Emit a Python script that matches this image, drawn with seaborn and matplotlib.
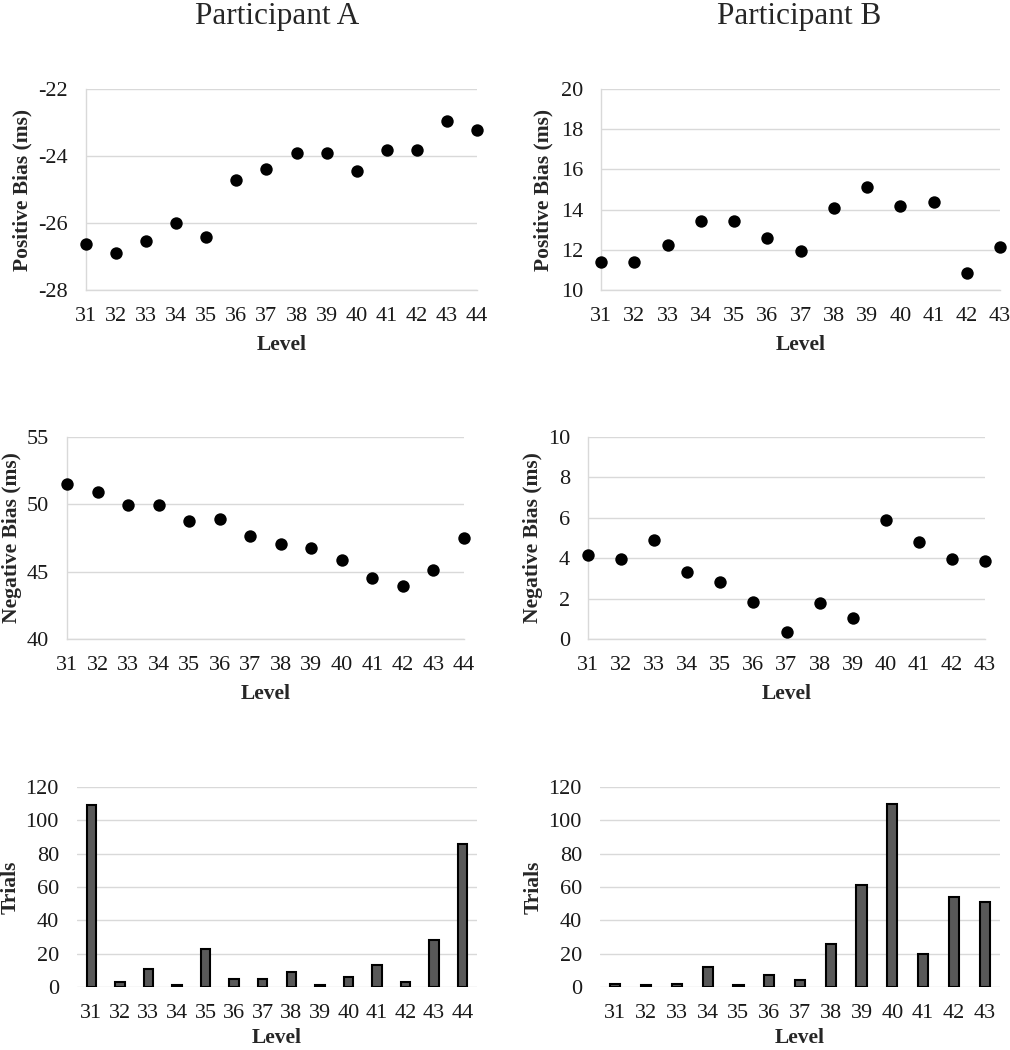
import matplotlib
matplotlib.use("Agg")
import matplotlib.pyplot as plt
import seaborn as sns
import pandas as pd
import numpy as np

sns.set_theme(style="white")
plt.rcParams['font.family'] = ['Liberation Serif', 'DejaVu Serif']
plt.rcParams['axes.unicode_minus'] = False

levels_a = [31, 32, 33, 34, 35, 36, 37, 38, 39, 40, 41, 42, 43, 44]
levels_b = [31, 32, 33, 34, 35, 36, 37, 38, 39, 40, 41, 42, 43]

pos_bias_a = [-26.62, -26.91, -26.53, -25.99, -26.42, -24.73, -24.40, -23.90, -23.90, -24.45, -23.83, -23.83, -22.97, -23.23]
pos_bias_b = [11.38, 11.38, 12.24, 13.44, 13.44, 12.59, 11.94, 14.07, 15.10, 14.19, 14.40, 10.86, 12.16]

neg_bias_a = [51.53, 50.93, 49.92, 49.92, 48.75, 48.93, 47.64, 47.07, 46.79, 45.90, 44.54, 43.92, 45.13, 47.49]
neg_bias_b = [4.18, 3.98, 4.88, 3.32, 2.84, 1.84, 0.35, 1.76, 1.03, 5.87, 4.78, 3.98, 3.85]

trials_a = [109, 3, 11, 1, 23, 5, 5, 9, 1, 6, 13, 3, 28, 86]
trials_b = [2, 1, 2, 12, 1, 7, 4, 26, 61, 110, 20, 54, 51]

titles = ["Participant A", "Participant B"]

GRID = "#d9d9d9"
TICK_FS = 16
LABEL_FS = 15.5

W, H = 1010, 1050
fig = plt.figure(figsize=(W / 100, H / 100), dpi=100)
fig.patch.set_facecolor("white")


def rect(l, r, t, b):
    return [l / W, 1 - b / H, (r - l) / W, (b - t) / H]


def style_common(ax, ylabel, yticks, ylab_x, xpad):
    ax.set_facecolor("white")
    ax.set_yticks(yticks)
    ax.set_ylim(yticks[0], yticks[-1])
    ax.yaxis.grid(True, color=GRID, linewidth=1)
    ax.xaxis.grid(False)
    ax.set_axisbelow(True)
    ax.tick_params(axis="both", length=0, labelsize=TICK_FS, colors="#1a1a1a")
    ax.tick_params(axis="x", pad=12)
    ax.tick_params(axis="y", pad=13)
    ax.set_ylabel(ylabel, fontsize=LABEL_FS, fontweight="bold")
    ax.yaxis.set_label_coords(ylab_x, 0.5)
    ax.set_xlabel("Level", fontsize=LABEL_FS, fontweight="bold", labelpad=xpad)
    for s in ["top", "right"]:
        ax.spines[s].set_visible(False)


def scatter_panel(pos, levels, values, ylabel, yticks, ylab_x):
    ax = fig.add_axes(pos)
    df = pd.DataFrame({"Level": levels, "Value": values})
    sns.scatterplot(data=df, x="Level", y="Value", ax=ax, color="black",
                    s=80, edgecolor="black", linewidth=0, clip_on=False, zorder=3)
    ax.set_xlim(levels[0], levels[-1])
    ax.set_xticks(levels)
    ax.set_xticklabels([str(v) for v in levels])
    style_common(ax, ylabel, yticks, ylab_x, 7)
    for s in ["left", "bottom"]:
        ax.spines[s].set_visible(True)
        ax.spines[s].set_color(GRID)
        ax.spines[s].set_linewidth(1)
    return ax


def bar_panel(pos, levels, values, ylabel, yticks, ylab_x):
    ax = fig.add_axes(pos)
    df = pd.DataFrame({"Level": [str(v) for v in levels], "Trials": values})
    sns.barplot(data=df, x="Level", y="Trials", ax=ax, color="#595959",
                edgecolor="black", linewidth=1.5, width=0.33, saturation=1)
    ax.set_xlim(-0.5, len(levels) - 0.5)
    style_common(ax, ylabel, yticks, ylab_x, 4)
    ax.spines["left"].set_visible(False)
    ax.spines["bottom"].set_visible(False)
    return ax


ax1 = scatter_panel(rect(86, 477, 89, 290), levels_a, pos_bias_a, "Positive Bias (ms)", [-28, -26, -24, -22], -0.136)
ax2 = scatter_panel(rect(601, 1000, 89, 290), levels_b, pos_bias_b, "Positive Bias (ms)", [10, 12, 14, 16, 18, 20], -0.118)
ax3 = scatter_panel(rect(67, 464, 437, 639), levels_a, neg_bias_a, "Negative Bias (ms)", [40, 45, 50, 55], -0.113)
ax4 = scatter_panel(rect(588, 985, 437, 639), levels_b, neg_bias_b, "Negative Bias (ms)", [0, 2, 4, 6, 8, 10], -0.113)
ax5 = bar_panel(rect(77, 477, 787, 987), levels_a, trials_a, "Trials", [0, 20, 40, 60, 80, 100, 120], -0.14)
ax6 = bar_panel(rect(600, 1000, 787, 987), levels_b, trials_b, "Trials", [0, 20, 40, 60, 80, 100, 120], -0.14)

fig.text(277 / W, 1 - 24 / H, titles[0], ha="center", va="baseline", fontsize=22.5)
fig.text(799 / W, 1 - 24 / H, titles[1], ha="center", va="baseline", fontsize=22.5)

fig.savefig("out.png", dpi=100, facecolor="white")
